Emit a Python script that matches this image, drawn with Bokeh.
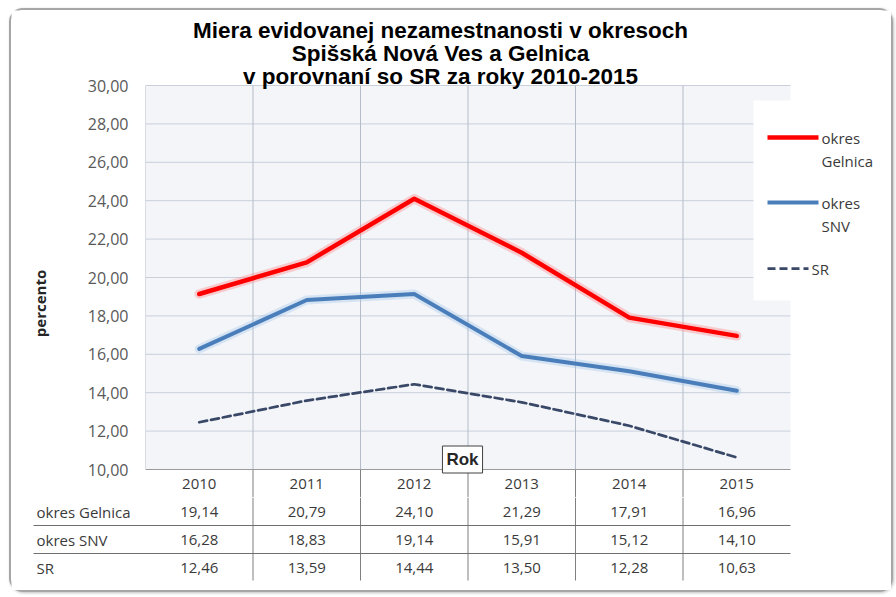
import math
from bokeh.plotting import figure
from bokeh.layouts import column, row
from bokeh.models import Range1d, FixedTicker, Label, BoxAnnotation
from bokeh.embed import file_html
from bokeh.resources import INLINE
from bokeh.core.properties import value

# ---------------- data ----------------
years = ["2010", "2011", "2012", "2013", "2014", "2015"]
gelnica = [19.14, 20.79, 24.10, 21.29, 17.91, 16.96]
snv = [16.28, 18.83, 19.14, 15.91, 15.12, 14.10]
sr = [12.46, 13.59, 14.44, 13.50, 12.28, 10.63]
row_names = ["okres Gelnica", "okres SNV", "SR"]
legend_texts = [["okres", "Gelnica"], ["okres", "SNV"], ["SR"]]
y_ticks = [10, 12, 14, 16, 18, 20, 22, 24, 26, 28, 30]
y_tick_labels = ["10,00", "12,00", "14,00", "16,00", "18,00", "20,00",
                 "22,00", "24,00", "26,00", "28,00", "30,00"]
title_lines = ["Miera evidovanej nezamestnanosti v okresoch",
               "Spišská Nová Ves a Gelnica",
               "v porovnaní so SR za roky 2010-2015"]
y_axis_title = "percento"
x_axis_title = "Rok"

# ---------------- layout (page pixels) ----------------
L, R, T, B = 11, 891, 10, 590          # content box inside the rounded border
SPLIT = 497                             # chart (+ header row) / table split
LSPLIT = 70                             # y-title strip / chart split
FL, FR, FT, FB = 145, 790, 85, 469      # plot area
n = len(years)
xi = list(range(n))
cat_px = (FR - FL) / n
unit_px = (FB - FT) / (y_ticks[-1] - y_ticks[0])
HEAD_Y = 483
ROW0, ROW_PX = 483, 28


def ix(px):
    return (px - FL) / cat_px - 0.5


def sy(py):
    return y_ticks[0] + (FB - py) / unit_px


def ry(py):
    return (py - ROW0) / ROW_PX


TXT = "Open Sans"
TCOL = "#3A3A3A"
GRID = "#C9D0DC"
VGRID = "#B5BCC9"
TLINE = "#7F7F7F"

common = dict(output_backend="svg", toolbar_location=None, title=None,
              background_fill_color="white", border_fill_color="white",
              outline_line_color=None, min_border_top=0, min_border_bottom=0,
              min_border_right=0)

# ================= y title strip =================
ft = figure(width=LSPLIT - L, height=SPLIT - T,
            x_range=Range1d(L, LSPLIT), y_range=Range1d(sy(SPLIT), sy(T)),
            x_axis_location=None, y_axis_location=None, min_border_left=0, **common)
ft.center = []
ft.text(x=[39], y=[sy(303)], text=[y_axis_title], angle=math.pi / 2,
        text_align="center", text_baseline="middle", text_font=value(TXT),
        text_font_style="bold", text_font_size="15px", text_color="#262626")

# ================= chart figure =================
p = figure(width=R - LSPLIT, height=SPLIT - T,
           x_range=Range1d(ix(FL), ix(R)), y_range=Range1d(sy(SPLIT), sy(T)),
           x_axis_location=None, min_border_left=FL - LSPLIT, **common)
p.center = []

ax = p.yaxis[0]
ax.ticker = FixedTicker(ticks=y_ticks)
ax.major_label_overrides = {t: l for t, l in zip(y_ticks, y_tick_labels)}
ax.axis_line_color = None
ax.major_tick_line_color = None
ax.minor_tick_line_color = None
ax.major_tick_out = 0
ax.major_label_standoff = 17
ax.major_label_text_font = TXT
ax.major_label_text_font_size = "16px"
ax.major_label_text_color = "#595959"

x_lo, x_hi = xi[0] - 0.5, xi[-1] + 0.5
# plot area background
p.add_layout(BoxAnnotation(left=x_lo, right=x_hi, bottom=y_ticks[0], top=y_ticks[-1],
                           fill_color="#F3F5F9", fill_alpha=1, line_color=None, level="image"))
# horizontal grid lines
gy = y_ticks[1:]
p.segment(x0=[x_lo] * len(gy), x1=[x_hi] * len(gy), y0=gy, y1=gy,
          line_color=GRID, line_width=1)
# vertical category boundaries
bx = [i - 0.5 for i in xi]
p.segment(x0=bx, x1=bx, y0=[y_ticks[0]] * n, y1=[y_ticks[-1]] * n,
          line_color=VGRID, line_width=1)
# the data table's column lines (upper part, through the header row)
vb = [i + 0.5 for i in xi[:-1]]
p.segment(x0=vb, x1=vb, y0=[y_ticks[0]] * len(vb), y1=[sy(SPLIT)] * len(vb),
          line_color=TLINE, line_width=1)
# x axis line
p.segment(x0=[x_lo], x1=[x_hi], y0=[y_ticks[0]], y1=[y_ticks[0]],
          line_color="#9A9A9A", line_width=1.2)

series = [
    (gelnica, "#FF0000", 4.5, "solid", "#FF7F7F"),
    (snv, "#4A7EBB", 4.0, "solid", "#9DC3E6"),
    (sr, "#3A4868", 2.75, "8 4", None),
]
for vals, col, lw, dash, glow in series:
    if glow:
        p.line(xi, vals, line_color=glow, line_width=lw + 5, line_alpha=0.35,
               line_join="round", line_cap="round")
    p.line(xi, vals, line_color=col, line_width=lw, line_dash=dash,
           line_join="round", line_cap="round")

# data table header row (category labels)
p.text(x=xi, y=[sy(HEAD_Y)] * n, text=years, text_align="center", text_baseline="middle",
       text_font=value(TXT), text_font_size="15px", text_color=TCOL)

# legend (white box + samples + texts)
p.add_layout(BoxAnnotation(left=ix(753), right=ix(R), top=sy(100), bottom=sy(300),
                           fill_color="white", fill_alpha=1, line_color=None))
leg_y = [137, 202, 268]
for (vals, col, lw, dash, glow), texts, ly in zip(series, legend_texts, leg_y):
    xe = 818 if dash == "solid" else 808
    p.line([ix(767), ix(xe)], [sy(ly), sy(ly)], line_color=col, line_width=lw,
           line_dash=dash, level="overlay")
    p.text(x=[ix(xe + 3)] * len(texts), y=[sy(ly + 23 * k) for k in range(len(texts))],
           text=texts, text_align="left", text_baseline="middle",
           text_font=value(TXT), text_font_size="15px", text_color=TCOL, level="overlay")

# x axis title box
p.add_layout(Label(x=ix(462), y=sy(459), text=x_axis_title, text_align="center",
                   text_baseline="middle", text_font="Liberation Sans",
                   text_font_style="bold", text_font_size="17px", text_color="#262626",
                   background_fill_color="white", border_line_color="#404040",
                   padding=4))

# title
p.text(x=[ix(440)] * len(title_lines), y=[sy(30 + 23 * k) for k in range(len(title_lines))],
       text=title_lines, text_align="center", text_baseline="middle",
       text_font=value("Liberation Sans"), text_font_style="bold",
       text_font_size="22.5px", text_color="#000000", level="overlay")

# ================= data table figure =================
t = figure(width=R - L, height=B - SPLIT,
           x_range=Range1d(ix(L), ix(R)), y_range=Range1d(ry(B), ry(SPLIT)),
           x_axis_location=None, y_axis_location=None, min_border_left=0, **common)
t.center = []

t.segment(x0=vb, x1=vb, y0=[ry(SPLIT)] * len(vb), y1=[ry(580)] * len(vb),
          line_color=TLINE, line_width=1)
hl = [k + 0.5 for k in range(1, len(row_names))]
t.segment(x0=[ix(33)] * len(hl), x1=[x_hi] * len(hl), y0=hl, y1=hl,
          line_color="#6F6F6F", line_width=1.2)

cx, cy, ct = [], [], []
for r, vals in enumerate([gelnica, snv, sr], start=1):
    for i, v in zip(xi, vals):
        cx.append(i); cy.append(r); ct.append(f"{v:.2f}".replace(".", ","))
t.text(x=cx, y=cy, text=ct, text_align="center", text_baseline="middle",
       text_font=value(TXT), text_font_size="15px", text_color=TCOL)
t.text(x=[ix(36)] * len(row_names), y=list(range(1, len(row_names) + 1)), text=row_names,
       text_align="left", text_baseline="middle",
       text_font=value(TXT), text_font_size="15px", text_color=TCOL)

layout = column(row(ft, p, spacing=0), t, spacing=0,
                styles={"border": "2px solid #A6A6A6", "border-radius": "14px",
                        "box-shadow": "1px 1px 3px rgba(0,0,0,0.25)",
                        "background-color": "white", "margin": "8px 0 0 9px"})

open("out.html", "w").write(file_html(layout, INLINE))
